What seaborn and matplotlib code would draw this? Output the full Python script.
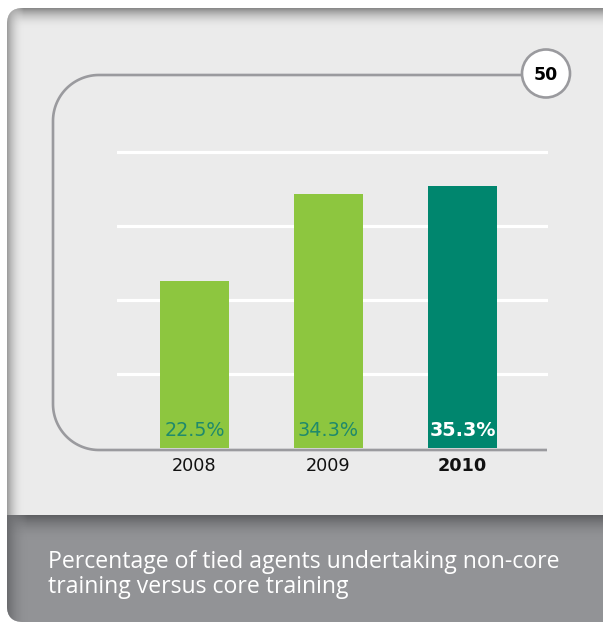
import numpy as np
import pandas as pd
import matplotlib
matplotlib.use("Agg")
import matplotlib.pyplot as plt
import seaborn as sns
from matplotlib.patches import FancyBboxPatch, Rectangle, Circle
from matplotlib.colors import to_rgb

# ---- data -------------------------------------------------------------
years = ["2008", "2009", "2010"]
shares = [22.5, 34.3, 35.3]
bar_colors = ["#8dc63f", "#8dc63f", "#00866e"]
label_colors = ["#1f8a6b", "#1f8a6b", "#ffffff"]
label_weights = ["normal", "normal", "bold"]
grid_levels = [10, 20, 30, 40]
badge_text = "50"
caption_lines = ["Percentage of tied agents undertaking non-core",
                 "training versus core training"]

W, H = 603, 624
PANEL = "#ebebeb"
BAND = "#929396"
LINE = "#9a9a9e"

sns.set_theme(style="white")
plt.rcParams["font.family"] = ["DejaVu Sans"]

fig = plt.figure(figsize=(W / 100, H / 100), dpi=100)
fig.patch.set_facecolor("white")

# ---- background panel (pixel coordinates, y grows downwards) -------------
bg = fig.add_axes([0, 0, 1, 1])
bg.set_xlim(0, W)
bg.set_ylim(H, 0)
bg.axis("off")

panel = FancyBboxPatch((7, 8), 660, 614, boxstyle="round,pad=0,rounding_size=16",
                       facecolor=PANEL, edgecolor="none", zorder=1)
bg.add_patch(panel)


def gradient(ax, extent, c0, c1, direction, zorder, clip):
    """Paint a linear colour ramp from c0 fading into c1 inside extent (x0, x1, y0, y1)."""
    n = 256
    t = np.linspace(0, 1, n)
    a = np.array(to_rgb(c0))
    b = np.array(to_rgb(c1))
    ramp = a[None, :] * (1 - t[:, None]) + b[None, :] * t[:, None]
    rgba = np.concatenate([ramp, (1 - t)[:, None]], axis=1)
    img = rgba[:, None, :] if direction == "v" else rgba[None, :, :]
    x0, x1, y0, y1 = extent
    im = ax.imshow(img, extent=(x0, x1, y1, y0), aspect="auto",
                   interpolation="bilinear", zorder=zorder)
    im.set_clip_path(clip)
    return im


# soft shading along the top and left edges of the light panel
gradient(bg, (0, W, 8, 28), "#858585", PANEL, "v", 2, panel)
gradient(bg, (7, 24, 0, 515), "#9a9a9a", PANEL, "h", 2, panel)

# dark caption band
band = Rectangle((0, 515), W, 120, facecolor=BAND, edgecolor="none", zorder=3)
bg.add_patch(band)
band.set_clip_path(panel)
gradient(bg, (0, W, 515, 540), "#5c5d60", BAND, "v", 4, panel)
gradient(bg, (7, 28, 515, 624), "#6a6b6e", BAND, "h", 4, panel)

# rounded frame line around the chart area, drawn as one continuous stroke
r = 46
x_left, y_top, y_base = 53, 75, 450
x_start, x_end = 521, 547
phi_top = np.linspace(np.pi / 2, np.pi, 40)
phi_bot = np.linspace(np.pi, 3 * np.pi / 2, 40)
fx = np.concatenate([[x_start],
                     x_left + r + r * np.cos(phi_top),
                     x_left + r + r * np.cos(phi_bot),
                     [x_end]])
fy = np.concatenate([[y_top],
                     y_top + r - r * np.sin(phi_top),
                     y_base - r - r * np.sin(phi_bot),
                     [y_base]])
bg.plot(fx, fy, color=LINE, lw=1.9, solid_capstyle="butt",
        solid_joinstyle="round", zorder=5)

# numbered badge
bg.add_patch(Circle((546, 73.5), 24, facecolor="white", edgecolor=LINE, lw=1.9, zorder=6))
bg.text(546, 74.5, badge_text, ha="center", va="center", fontsize=12.4,
        fontweight="bold", color="black", zorder=7)

# caption, one baseline per line
for k, line in enumerate(caption_lines):
    bg.text(48, 567.5 + 25.6 * k, line, ha="left", va="baseline", color="white",
            fontsize=16.6, family=["Open Sans", "DejaVu Sans"], zorder=7)

# ---- bar chart ------------------------------------------------------------
px_per_unit = 7.4
zero_y = 447.5
top_y = 140
ax_left, ax_right = 117, 548
ax = fig.add_axes([ax_left / W, (H - zero_y) / H, (ax_right - ax_left) / W,
                   (zero_y - top_y) / H])
ax.set_facecolor("none")

df = pd.DataFrame({"year": years, "share": shares})
sns.barplot(data=df, x="year", y="share", hue="year", palette=bar_colors,
            width=0.515, saturation=1, legend=False, ax=ax, zorder=3,
            edgecolor="none", linewidth=0)

ax.set_ylim(0, (zero_y - top_y) / px_per_unit)
ax.set_xlim(-0.578, 2.638)
ax.set_yticks(grid_levels)
ax.yaxis.grid(True, color="white", lw=2.3, zorder=0)
ax.set_axisbelow(True)
ax.tick_params(axis="y", left=False, labelleft=False)
ax.tick_params(axis="x", length=0, pad=7, labelsize=12.7, labelcolor="#111111")
for s in ax.spines.values():
    s.set_visible(False)
ax.set_xlabel("")
ax.set_ylabel("")
for lbl, w in zip(ax.get_xticklabels(), label_weights):
    lbl.set_fontweight(w)

# value labels sitting inside the foot of each bar
for i, (v, c, w) in enumerate(zip(shares, label_colors, label_weights)):
    ax.annotate(f"{v:.1f}%", xy=(i, 0), xytext=(0, 8), textcoords="offset points",
                ha="center", va="baseline", fontsize=13.8, color=c, fontweight=w,
                zorder=5)

fig.savefig("out.png", dpi=100, facecolor=fig.get_facecolor())
